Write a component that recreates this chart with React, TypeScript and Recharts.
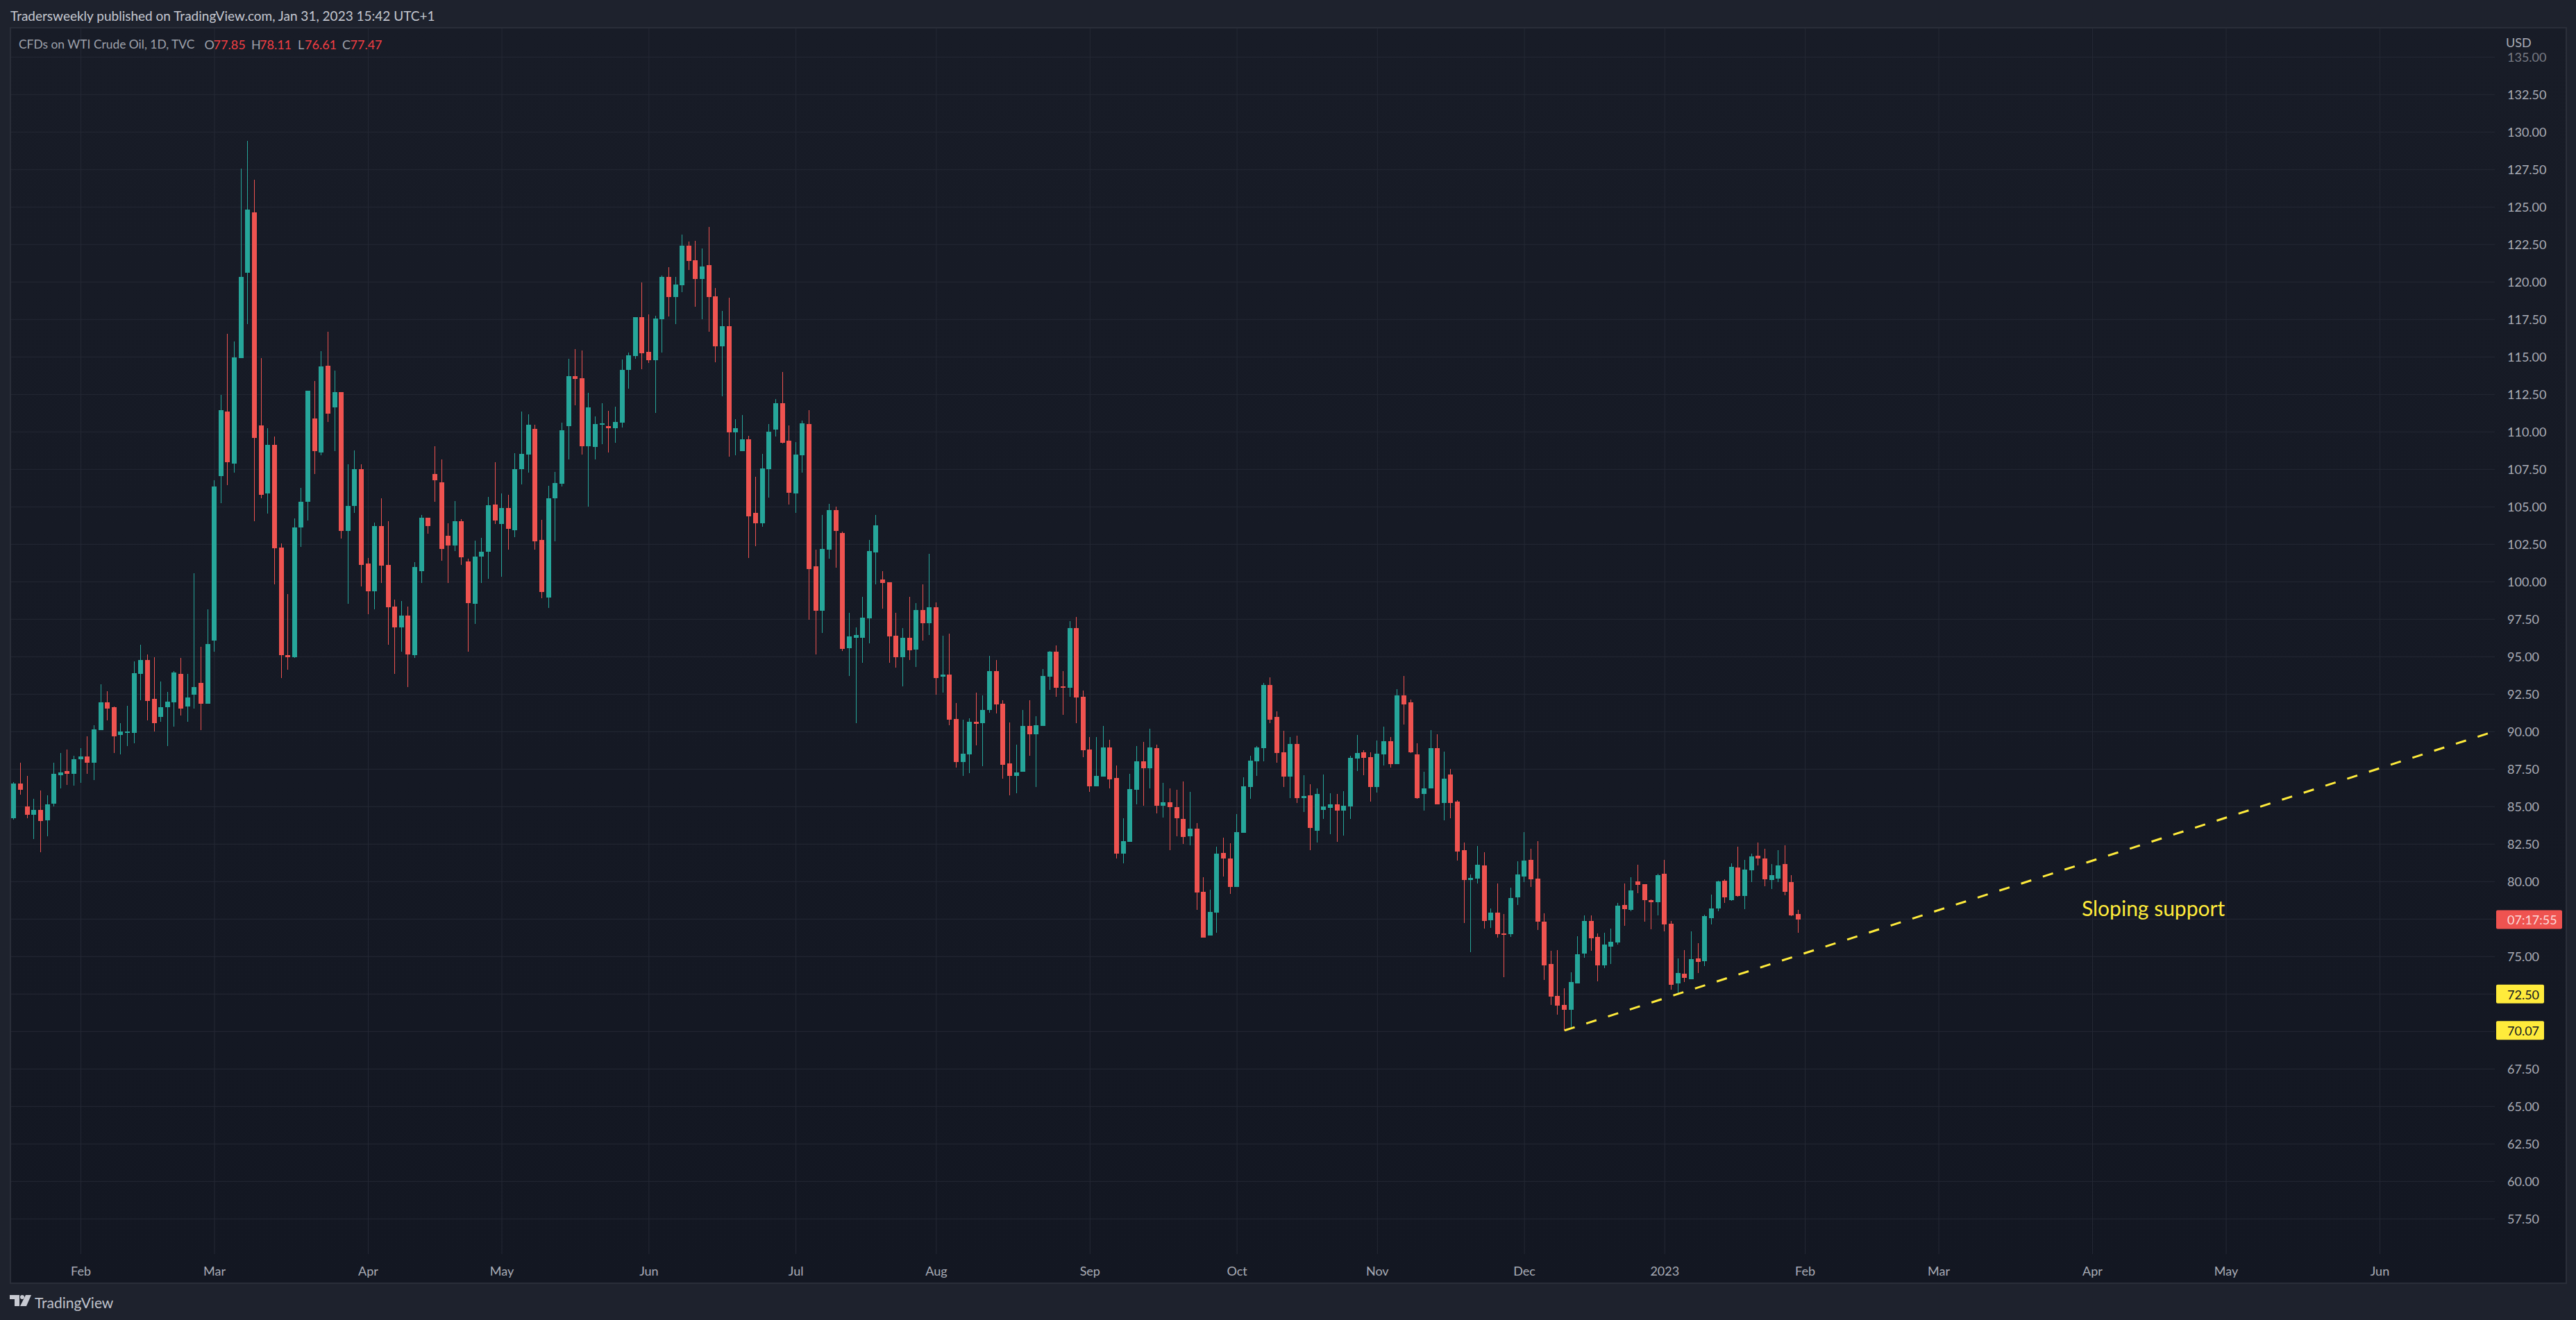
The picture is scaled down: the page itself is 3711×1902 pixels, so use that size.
import React from "react";
import {
  ComposedChart,
  Bar,
  XAxis,
  YAxis,
  CartesianGrid,
  ReferenceLine,
  ReferenceDot,
  Label,
} from "recharts";

const opens = [
  84.24,86.52,85.02,84.47,84.80,84.11,85.22,87.10,87.39,87.20,
  88.14,88.37,87.91,90.12,91.97,91.62,89.80,89.99,89.93,93.86,
  94.80,92.20,90.97,91.62,91.97,93.86,91.68,92.49,93.27,91.88,
  96.10,107.07,111.36,107.89,114.93,120.62,124.64,110.45,105.91,109.15,
  102.30,95.12,94.99,103.63,105.32,110.91,108.63,114.41,111.65,112.66,
  103.40,105.06,107.50,101.20,99.35,103.70,101.13,98.37,96.98,97.75,
  95.12,100.71,104.28,107.20,106.65,103.05,102.40,104.05,101.36,98.53,
  101.68,102.02,105.16,103.86,104.92,103.46,107.52,108.49,110.21,102.80,
  98.95,105.59,106.55,110.40,113.73,113.59,109.06,109.01,110.47,110.40,
  110.26,110.62,114.14,115.08,117.66,115.34,114.80,117.51,120.35,119.00,
  119.78,122.43,121.46,120.21,121.13,119.05,115.72,117.06,109.98,108.73,
  109.51,104.62,103.91,107.52,110.17,111.92,109.41,105.89,108.44,110.52,
  101.05,98.07,102.16,104.78,103.27,95.57,96.28,96.28,97.58,101.97,
  100.15,99.99,96.42,94.98,96.28,95.48,98.12,97.25,98.31,93.68,
  93.82,90.85,87.99,88.50,90.66,90.58,91.46,94.04,91.86,87.89,
  87.06,87.33,90.39,89.83,90.39,93.68,95.34,93.03,92.94,96.91,
  92.34,88.81,86.36,87.01,88.96,86.91,81.88,82.66,86.13,88.03,
  87.56,88.91,85.06,85.31,84.98,84.18,83.03,83.53,79.33,76.40,
  77.93,81.93,81.55,79.65,83.26,86.31,88.03,88.91,93.11,90.99,
  88.63,87.01,89.18,85.58,85.76,83.40,84.78,84.93,85.16,84.74,
  85.03,88.21,88.63,88.31,86.31,88.49,89.38,87.84,92.43,91.96,
  88.49,85.86,86.23,88.91,85.26,87.16,85.34,82.10,80.11,80.20,
  81.08,77.42,77.93,76.54,76.50,78.95,80.34,81.45,80.20,77.33,
  74.51,72.38,71.77,71.45,73.21,75.20,77.38,76.31,74.41,75.66,
  75.94,78.44,78.12,80.01,79.83,78.76,78.63,80.52,77.19,73.21,
  73.86,73.49,74.88,74.69,77.56,78.21,80.06,78.76,80.94,79.04,
  80.76,81.73,81.54,80.11,80.20,81.17,79.97,77.85,
];
const highs = [
  86.65,87.91,87.07,85.54,86.09,85.74,87.95,88.56,88.82,88.40,
  88.89,89.70,90.45,93.18,92.72,91.68,90.58,91.75,94.67,95.81,
  95.16,94.99,93.37,92.66,94.05,94.93,93.86,100.55,95.64,98.18,
  106.78,112.47,116.56,116.01,127.57,129.42,126.82,114.90,110.26,109.67,
  102.56,99.18,104.25,106.26,112.76,113.38,115.39,116.66,114.09,112.66,
  107.85,108.76,107.82,101.59,103.96,105.58,104.02,98.83,98.73,98.37,
  101.33,104.48,104.28,109.06,108.18,103.92,105.39,104.18,101.52,102.76,
  102.95,105.68,107.99,105.89,105.82,108.58,111.37,111.18,110.47,104.14,
  106.41,107.33,110.62,114.89,115.53,115.43,112.62,111.04,111.92,111.42,
  111.68,114.82,115.29,117.66,119.97,117.84,117.75,120.44,120.99,120.35,
  123.18,122.69,122.73,122.24,123.68,119.62,118.08,118.95,110.83,111.14,
  109.74,107.00,108.54,110.52,112.18,113.99,110.45,109.32,110.76,111.47,
  102.16,104.48,105.21,105.02,103.36,97.93,96.96,98.99,102.80,104.48,
  100.72,99.99,97.93,96.92,98.99,98.59,99.85,101.88,98.64,96.42,
  96.56,91.93,90.78,90.89,92.61,92.43,95.06,94.79,92.11,90.61,
  89.14,91.46,92.11,91.04,94.19,95.39,95.76,94.04,97.39,97.66,
  92.76,89.66,89.66,90.39,89.46,87.76,84.23,87.20,89.05,89.32,
  90.21,89.14,86.59,86.23,86.13,86.68,85.99,83.91,80.30,79.46,
  82.33,82.93,82.56,84.51,86.96,88.41,89.05,93.26,93.64,91.36,
  90.06,89.66,89.74,87.11,86.51,86.23,87.16,85.90,85.86,86.03,
  88.41,89.79,88.76,88.63,89.41,90.34,89.66,92.84,93.72,92.16,
  89.23,87.33,90.11,89.83,88.68,87.50,85.44,82.61,80.48,82.38,
  81.96,78.21,79.88,77.84,79.60,81.36,83.30,82.19,82.70,77.89,
  75.39,75.43,72.89,73.95,76.36,77.75,77.75,76.54,76.59,76.87,
  78.58,79.88,80.29,81.13,79.83,78.81,80.52,81.45,77.38,74.88,
  75.43,76.68,75.89,77.79,79.14,80.06,80.15,81.22,82.33,81.45,
  81.87,82.61,82.19,81.17,82.10,82.42,80.43,78.11,
];
const lows = [
  84.14,85.80,84.24,82.82,81.97,83.04,85.02,86.23,86.45,86.42,
  86.61,87.17,86.78,90.12,90.77,88.56,88.47,89.05,89.25,92.10,
  90.74,90.02,90.67,89.05,90.35,91.10,90.67,91.52,90.12,91.88,
  95.35,105.26,106.46,107.30,114.93,117.21,104.02,105.58,104.57,99.83,
  93.60,94.12,94.90,102.33,104.09,107.17,108.44,110.68,108.73,102.89,
  98.53,104.61,99.70,97.85,98.14,99.93,95.81,93.86,95.35,92.98,
  94.90,99.93,103.21,105.32,101.42,99.93,102.07,101.13,95.35,97.17,
  99.90,100.20,103.86,100.34,102.16,102.99,106.51,107.29,102.16,98.90,
  98.26,102.70,106.36,108.16,111.77,108.49,105.02,108.16,109.20,108.63,
  109.29,110.31,112.88,114.89,114.18,114.61,111.28,115.29,117.70,117.21,
  119.33,120.82,118.36,117.51,116.69,114.66,112.39,108.35,108.44,108.73,
  101.59,102.37,103.67,105.63,109.70,109.25,105.16,104.62,107.29,97.48,
  95.17,96.59,101.55,100.96,95.40,93.73,90.59,94.60,95.90,99.85,
  98.22,94.60,94.27,93.04,94.79,94.32,96.09,96.47,92.48,92.62,
  90.44,87.62,87.06,87.25,89.10,87.71,91.26,91.23,86.88,85.76,
  85.90,87.33,88.41,86.31,90.39,92.79,92.34,91.13,92.34,90.58,
  88.31,85.99,86.36,87.01,86.23,81.55,81.23,82.66,85.16,85.06,
  86.23,84.56,84.28,82.10,83.03,82.53,82.43,78.13,76.28,76.40,
  76.60,80.35,79.18,79.65,83.26,85.53,87.06,88.03,90.58,87.93,
  86.31,85.58,85.26,84.65,82.10,82.61,84.18,83.16,82.66,83.08,
  84.18,87.38,87.11,85.34,85.96,87.76,87.61,87.84,90.49,88.58,
  85.53,84.74,86.23,85.16,84.09,84.23,81.41,77.24,75.29,79.88,
  76.87,76.91,76.26,73.63,76.31,78.44,79.97,79.64,76.77,73.44,
  71.77,71.13,70.07,70.29,73.21,74.92,75.39,73.35,74.23,74.51,
  75.80,77.05,78.02,79.23,77.33,76.82,77.75,76.68,72.79,72.50,
  73.30,73.49,73.90,74.37,77.14,78.02,78.58,78.72,79.00,78.16,
  79.97,81.08,79.69,79.51,79.97,79.09,77.70,76.61,
];
const closes = [
  86.55,86.13,84.44,84.80,84.02,85.15,87.17,87.30,87.20,88.14,
  88.37,87.95,90.15,91.97,91.55,89.70,90.02,90.02,93.92,94.80,
  92.07,90.58,91.65,92.01,93.95,91.55,92.27,92.98,91.88,95.87,
  106.36,111.43,107.98,114.97,120.36,124.81,109.58,105.78,109.15,102.24,
  95.09,94.99,103.63,105.35,112.76,108.70,114.38,111.20,112.66,103.40,
  105.06,107.50,101.13,99.35,103.70,101.10,98.31,96.98,97.75,95.16,
  101.00,104.28,103.70,106.78,102.17,102.40,104.02,101.65,98.60,101.68,
  102.01,105.11,104.10,104.92,103.51,107.52,108.54,110.47,102.70,99.33,
  105.59,106.60,110.12,113.73,113.55,109.06,111.63,110.52,110.57,110.26,
  110.66,114.14,115.10,117.66,115.25,114.80,117.56,120.35,119.00,119.83,
  122.43,121.41,120.21,121.03,119.00,115.72,117.06,109.98,110.26,109.51,
  104.38,103.91,107.57,110.03,111.92,109.29,105.94,108.49,110.57,100.86,
  98.07,102.21,104.78,103.41,95.52,96.37,96.47,97.62,102.07,103.77,
  99.94,96.37,94.98,96.28,95.43,98.12,97.25,98.31,93.59,93.82,
  90.80,87.99,88.53,90.68,90.53,91.46,94.04,91.83,87.80,87.06,
  87.29,90.39,89.83,90.44,93.72,95.34,92.94,92.94,96.91,92.29,
  88.76,86.36,87.06,88.96,86.83,81.88,82.71,86.18,88.03,87.56,
  88.96,85.06,85.31,84.98,84.23,82.98,83.53,79.28,76.28,77.98,
  81.88,81.55,79.65,83.31,86.36,88.08,88.96,93.11,90.81,88.58,
  87.01,89.18,85.58,85.71,83.58,85.86,85.03,85.16,84.74,85.06,
  88.26,88.58,88.26,86.31,88.53,89.38,87.84,92.43,91.83,88.63,
  85.58,86.23,88.91,85.16,86.88,85.26,82.00,80.11,80.25,81.13,
  77.38,77.93,76.50,76.50,78.90,80.48,81.40,80.15,77.33,74.41,
  72.33,71.73,71.45,73.30,75.15,77.38,76.22,74.41,75.80,75.99,
  78.39,78.16,79.41,79.78,78.76,78.63,80.43,77.14,73.12,73.90,
  73.58,74.83,74.64,77.70,78.21,80.01,78.95,80.99,79.04,80.80,
  81.68,81.54,80.15,80.43,81.08,79.32,77.75,77.47,
];

const monthTicks = [10, 30, 53, 73, 95, 117, 138, 161, 183, 204, 226, 247, 268, 288, 311, 331, 354];
const monthLabels = ["Feb", "Mar", "Apr", "May", "Jun", "Jul", "Aug", "Sep", "Oct", "Nov", "Dec", "2023", "Feb", "Mar", "Apr", "May", "Jun"];

const gridPrices = [
  135, 132.5, 130, 127.5, 125, 122.5, 120, 117.5, 115, 112.5, 110, 107.5, 105, 102.5, 100, 97.5, 95, 92.5, 90,
  87.5, 85, 82.5, 80, 77.5, 75, 72.5, 70, 67.5, 65, 62.5, 60, 57.5,
];
const hiddenPriceLabels = [77.5, 72.5, 70];
const yellowTags = [72.5, 70.07];
const countdownPrice = 77.47;
const countdownLabel = "07:17:55";
const priceTicks = [
  ...gridPrices.filter((p) => !hiddenPriceLabels.includes(p)),
  ...yellowTags,
  countdownPrice,
];

const trendStart = { x: 232, y: 70.07 };
const trendEnd = { x: 371.19, y: 90.03 };
const noteAt = { x: 320.1, y: 78.2 };
const noteText = "Sloping support";

const xDomain = [-0.436, 371.19];
const yDomain = [55.153, 136.912];

const headerText = "Tradersweekly published on TradingView.com, Jan 31, 2023 15:42 UTC+1";
const seriesTitle = "CFDs on WTI Crude Oil, 1D, TVC";
const last = opens.length - 1;

const rows = opens.map((o, i) => ({
  i,
  open: o,
  high: highs[i],
  low: lows[i],
  close: closes[i],
  range: [lows[i], highs[i]],
}));

const UP = "#26a69a";
const DOWN = "#ef5350";
const YELLOW = "#ffeb3b";
const FONT = "Lato, 'Noto Sans', sans-serif";
const AXIS_TEXT = "#a9acb6";

function Candle(props: any) {
  const { x, y, width, height, payload } = props;
  if (!payload) return null;
  const { open, high, low, close } = payload;
  const h = Math.abs(height);
  const toY = (v: number) => y + ((high - v) / (high - low)) * h;
  const cx = Math.round(x + width / 2 - 0.5);
  const color = close >= open ? UP : DOWN;
  const top = toY(Math.max(open, close));
  const bottom = toY(Math.min(open, close));
  return (
    <g shapeRendering="crispEdges">
      <rect x={cx} y={y} width={1} height={h} fill={color} />
      <rect x={cx - 3} y={top} width={7} height={Math.max(bottom - top, 2)} fill={color} />
    </g>
  );
}

function PriceTick(props: any) {
  const { x, y, payload } = props;
  const v = payload.value;
  const text = v.toFixed(2);
  if (v === countdownPrice) {
    return (
      <g>
        <rect x={x} y={y - 13.5} width={95} height={27} rx={2} fill={DOWN} />
        <text x={x + 16} y={y + 0.5} dominantBaseline="central" fontFamily={FONT} fontSize={18} fill="#fbdcdb">
          {countdownLabel}
        </text>
      </g>
    );
  }
  if (yellowTags.includes(v)) {
    return (
      <g>
        <rect x={x} y={y - 13.5} width={69} height={27} rx={2} fill={YELLOW} />
        <text x={x + 16} y={y + 0.5} dominantBaseline="central" fontFamily={FONT} fontSize={18} fill="#131722">
          {text}
        </text>
      </g>
    );
  }
  return (
    <text
      x={x + 16}
      y={y - 0.5}
      dominantBaseline="central"
      fontFamily={FONT}
      fontSize={18}
      fill={AXIS_TEXT}
      opacity={v === 135 ? 0.65 : 1}
    >
      {text}
    </text>
  );
}

function MonthTick(props: any) {
  const { x, y, payload } = props;
  const idx = monthTicks.indexOf(payload.value);
  return (
    <text x={x} y={y + 22} textAnchor="middle" dominantBaseline="central" fontFamily={FONT} fontSize={18} fill={AXIS_TEXT}>
      {monthLabels[idx]}
    </text>
  );
}

const abs = (left: number, top: number, extra: React.CSSProperties = {}): React.CSSProperties => ({
  position: "absolute",
  left,
  top,
  whiteSpace: "pre",
  fontFamily: FONT,
  lineHeight: 1,
  ...extra,
});

function LegendValue({ left, label, labelLeft, value }: any) {
  return (
    <>
      <span style={abs(labelLeft, 55, { fontSize: 18, color: "#9ea1ab" })}>{label}</span>
      <span style={abs(left, 55, { fontSize: 18, color: "#f23f43" })}>{value.toFixed(2)}</span>
    </>
  );
}

export default function App() {
  return (
    <div
      style={{
        position: "absolute",
        left: 0,
        top: 0,
        width: 3711,
        height: 1902,
        background: "#1e222d",
        overflow: "hidden",
      }}
    >
      <div
        style={{
          position: "absolute",
          left: 14,
          top: 39,
          width: 3680,
          height: 1807,
          border: "2px solid #2a2e39",
          background: "linear-gradient(#181c27, #131722)",
        }}
      />
      <ComposedChart
        width={3711}
        height={1902}
        data={rows}
        margin={{ top: 41, right: 16, bottom: 54, left: 16 }}
        style={{ position: "absolute", left: 0, top: 0 }}
      >
        <CartesianGrid stroke="#252935" horizontalValues={gridPrices} verticalValues={monthTicks} />
        <XAxis
          type="number"
          dataKey="i"
          domain={xDomain}
          allowDataOverflow
          ticks={monthTicks}
          interval={0}
          height={41}
          axisLine={false}
          tickLine={false}
          tickSize={0}
          tick={<MonthTick />}
        />
        <YAxis
          type="number"
          orientation="right"
          width={101}
          domain={yDomain}
          allowDataOverflow
          ticks={priceTicks}
          interval={0}
          axisLine={false}
          tickLine={false}
          tickSize={0}
          tick={<PriceTick />}
        />
        <Bar dataKey="range" barSize={7} isAnimationActive={false} shape={<Candle />} />
        <ReferenceLine
          segment={[trendStart, trendEnd]}
          stroke={YELLOW}
          strokeWidth={3}
          strokeDasharray="15.4 17.5"
          ifOverflow="visible"
        />
        <ReferenceDot x={noteAt.x} y={noteAt.y} r={0} fill="none" stroke="none" ifOverflow="visible">
          <Label value={noteText} position="center" fill={YELLOW} fontSize={30} fontFamily={FONT} />
        </ReferenceDot>
      </ComposedChart>

      <div style={abs(15, 13, { fontSize: 19, color: "#c4c7d0" })}>{headerText}</div>
      <div style={abs(27, 55, { fontSize: 17.4, color: "#9ea1ab" })}>{seriesTitle}</div>
      <LegendValue labelLeft={294.6} label="O" left={307.6} value={opens[last]} />
      <LegendValue labelLeft={362} label="H" left={374} value={highs[last]} />
      <LegendValue labelLeft={429} label="L" left={439} value={lows[last]} />
      <LegendValue labelLeft={493} label="C" left={504.5} value={closes[last]} />
      <div style={abs(3610, 52, { fontSize: 18, color: AXIS_TEXT })}>USD</div>

      <svg style={{ position: "absolute", left: 14, top: 1866 }} width={32} height={17} viewBox="0 0 32 17">
        <path d="M0 0H14V16H7V6H0Z" fill="#c8cad2" />
        <circle cx={18} cy={3} r={3} fill="#c8cad2" />
        <path d="M23 0H31L24 16H15Z" fill="#c8cad2" />
      </svg>
      <div style={abs(50, 1866, { fontSize: 21, color: "#c0c3cc" })}>TradingView</div>
    </div>
  );
}
